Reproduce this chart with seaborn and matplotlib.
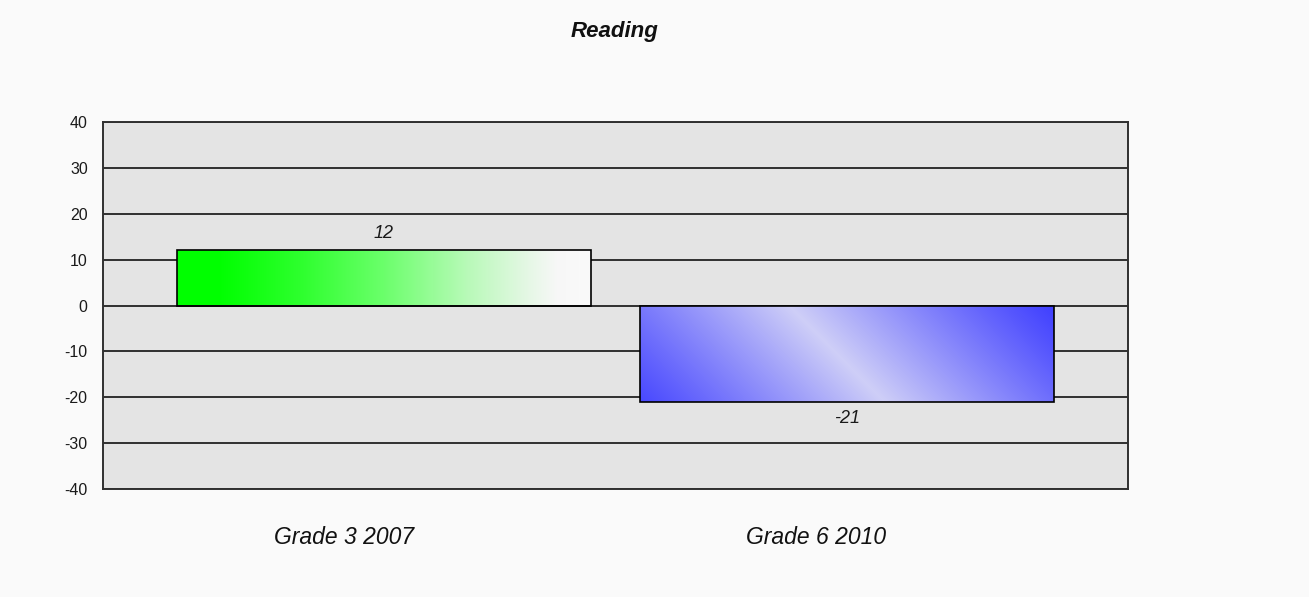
import numpy as np
import pandas as pd
import matplotlib
matplotlib.use("Agg")
import matplotlib.pyplot as plt
import matplotlib.transforms as mtransforms
import seaborn as sns

# ---- data ----
categories = ["Grade 3 2007", "Grade 6 2010"]
values = [12, -21]
title = "Reading"
yticks = [-40, -30, -20, -10, 0, 10, 20, 30, 40]

sns.set_theme(style="white")
plt.rcParams["font.family"] = ["Liberation Sans", "DejaVu Sans"]
plt.rcParams["axes.unicode_minus"] = False

W, H = 1309, 597
fig = plt.figure(figsize=(W / 100, H / 100), dpi=100, facecolor="#fafafa")
ax = fig.add_axes([103 / W, 108 / H, (1128 - 103) / W, (489 - 122) / H])
ax.set_facecolor("#e4e4e4")

df = pd.DataFrame({"cat": categories, "val": values})
sns.barplot(data=df, x="cat", y="val", hue="cat", palette=["#00ff00", "#4040ff"],
            width=0.894, legend=False, ax=ax, edgecolor="black", linewidth=1.2,
            saturation=1, zorder=3)

ax.set_ylim(yticks[0], yticks[-1])
ax.set_xlim(-0.607, 1.607)
ax.set_yticks(yticks)
ax.set_yticklabels([str(v) for v in yticks])
ax.set_xlabel("")
ax.set_ylabel("")
ax.set_axisbelow(True)
ax.yaxis.grid(True, color="#303030", linewidth=1.4)
ax.xaxis.grid(False)
for s in ax.spines.values():
    s.set_color("#303030")
    s.set_linewidth(1.4)
ax.tick_params(axis="y", length=0, pad=11, labelsize=11.5, labelcolor="#1a1a1a")
ax.tick_params(axis="x", length=0, pad=27, labelsize=16.5, labelcolor="#111111")
label_shift_px = [-40, -31]
for t, dx in zip(ax.get_xticklabels(), label_shift_px):
    t.set_fontstyle("italic")
    t.set_transform(t.get_transform() +
                    mtransforms.ScaledTranslation(dx / 100, 0, fig.dpi_scale_trans))

# ---- gradient fills clipped to each bar ----
green_stops = [(0.0, (0.0, 1.0, 0.0)), (0.1, (0.0, 1.0, 0.0)),
               (0.3, (0.18, 1.0, 0.18)), (0.5, (0.42, 1.0, 0.42)),
               (0.7, (0.72, 0.98, 0.72)), (0.85, (0.9, 0.97, 0.9)),
               (0.92, (0.97, 0.97, 0.97)), (1.0, (0.98, 0.98, 0.98))]
blue_dark = np.array([0.25, 0.25, 1.0])
blue_light = np.array([0.81, 0.81, 0.97])

def interp_stops(t, stops):
    pos = np.array([s[0] for s in stops])
    cols = np.array([s[1] for s in stops])
    return np.stack([np.interp(t, pos, cols[:, k]) for k in range(3)], axis=-1)

fig.canvas.draw()
for i, p in enumerate(ax.patches):
    x0, y0 = p.get_x(), p.get_y()
    w, h = p.get_width(), p.get_height()
    ylo, yhi = min(y0, y0 + h), max(y0, y0 + h)
    (px0, py0) = ax.transData.transform((x0, ylo))
    (px1, py1) = ax.transData.transform((x0 + w, yhi))
    pw, ph = int(abs(px1 - px0)), int(abs(py1 - py0))
    xs = np.arange(pw)[None, :].repeat(ph, 0)
    ys = np.arange(ph)[:, None].repeat(pw, 1)  # row 0 = top
    if i == 0:
        img = interp_stops(xs / max(pw - 1, 1), green_stops)
    else:
        t = (xs - ys + ph) / (pw + ph)
        f = np.clip(1 - np.abs(t - 0.48) / 0.52, 0, 1) ** 1.1
        img = blue_dark + (blue_light - blue_dark) * f[..., None]
    im = ax.imshow(img, extent=(x0, x0 + w, ylo, yhi), origin="upper",
                   aspect="auto", zorder=3.5, interpolation="bilinear")
    im.set_clip_path(p)
    p.set_facecolor("none")
    p.set_zorder(4)

ax.set_xlim(-0.607, 1.607)
ax.set_ylim(yticks[0], yticks[-1])

for c in ax.containers:
    ax.bar_label(c, fmt="{:g}", padding=6, fontsize=13, fontstyle="italic",
                 color="#1a1a1a")

fig.text(615 / W, 1 - 32 / H, title, ha="center", va="center", fontsize=16,
         fontweight="bold", fontstyle="italic", color="#111111")

fig.savefig("out.png", dpi=100, facecolor=fig.get_facecolor())
